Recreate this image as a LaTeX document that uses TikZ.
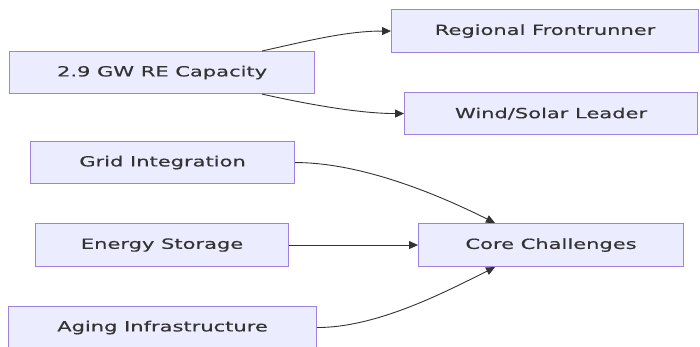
\documentclass[tikz,border=0pt]{standalone}
\usepackage{fontspec}
\newfontfamily\dfont[FakeStretch=1.5,FakeBold=0.4]{DejaVu Sans}
\usetikzlibrary{arrows.meta,calc}
\definecolor{nfill}{HTML}{ECECFF}
\definecolor{nstroke}{HTML}{9D83DE}
\definecolor{ntext}{HTML}{333333}
\tikzset{
  box/.style={draw=nstroke, fill=nfill, line width=1.1pt, text=ntext, font=\dfont\fontsize{14}{16}\selectfont, inner sep=0pt, anchor=north west},
  conn/.style={draw=ntext, line width=0.9pt, -{Triangle[length=9pt,width=8pt]}}
}
\begin{document}
\begin{tikzpicture}[x=1pt,y=-1pt]
\useasboundingbox (0,0) rectangle (700,347);
\node[box, minimum width=305pt, minimum height=42pt] (cap) at (9,51) {2.9 GW RE Capacity};
\node[box, minimum width=307pt, minimum height=43pt] (reg) at (391,9) {Regional Frontrunner};
\node[box, minimum width=293pt, minimum height=42pt] (wind) at (404,92) {Wind/Solar Leader};
\node[box, minimum width=264pt, minimum height=42pt] (grid) at (30,141) {Grid Integration};
\node[box, minimum width=253pt, minimum height=43pt] (stor) at (35,223) {Energy Storage};
\node[box, minimum width=265pt, minimum height=43pt] (core) at (418,223) {Core Challenges};
\node[box, minimum width=308pt, minimum height=42pt] (aging) at (8,306) {Aging Infrastructure};
\draw[conn] ([xshift=100pt]cap.north) .. controls +(45,-10) and +(-45,0) .. (reg.west);
\draw[conn] ([xshift=100pt]cap.south) .. controls +(45,10) and +(-45,0) .. (wind.west);
\draw[conn] (grid.east) .. controls +(70,0) and +(-50,-25) .. ([xshift=-56pt]core.north);
\draw[conn] (stor.east) -- (core.west);
\draw[conn] (aging.east) .. controls +(60,0) and +(-50,25) .. ([xshift=-56pt]core.south);
\end{tikzpicture}
\end{document}
